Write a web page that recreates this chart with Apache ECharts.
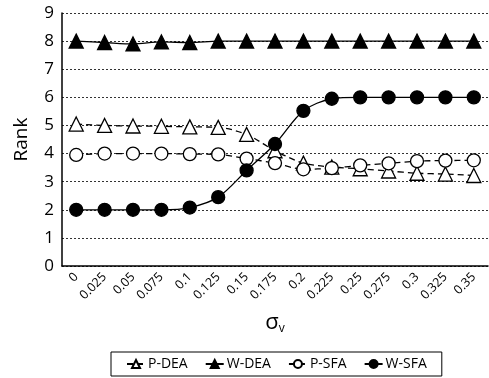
<!DOCTYPE html>
<html><head><meta charset="utf-8">
<script src="https://cdn.jsdelivr.net/npm/echarts@6/dist/echarts.min.js"></script>
<style>html,body{margin:0;padding:0;background:#fff}#c{width:489px;height:378px}</style>
</head><body><div id="c"></div>
<script>
const categories = ['0','0.025','0.05','0.075','0.1','0.125','0.15','0.175','0.2','0.225','0.25','0.275','0.3','0.325','0.35'];
const pDEA = [5.05,5.0,4.98,4.97,4.95,4.93,4.68,4.1,3.66,3.52,3.46,3.38,3.3,3.27,3.22];
const wDEA = [8.0,7.95,7.9,7.97,7.95,8.0,8.0,8.0,8.0,8.0,8.0,8.0,8.0,8.0,8.0];
const pSFA = [3.95,4.0,4.0,4.0,3.98,3.97,3.82,3.66,3.44,3.48,3.58,3.65,3.73,3.75,3.76];
const wSFA = [2.0,2.0,2.0,2.0,2.08,2.45,3.4,4.34,5.52,5.95,6.0,6.0,6.0,6.0,6.0];
const yTicks = [0,1,2,3,4,5,6,7,8,9];

const font = '"Open Sans", "Noto Sans", sans-serif';
const chart = echarts.init(document.getElementById('c'));
function ser(name, data, symbol, filled, dashed) {
  return {
    name, type: 'line', data, symbol, symbolSize: symbol === 'circle' ? 13 : 14,
    smooth: 0.3,
    lineStyle: { color: '#000', width: 1.3, type: dashed ? [6, 4] : 'solid' },
    itemStyle: { color: filled ? '#000' : '#fff', borderColor: '#000', borderWidth: 1.3 },
    emphasis: { disabled: true }
  };
}
chart.setOption({
  animation: false,
  textStyle: { fontFamily: font },
  grid: { left: 62, right: 1, top: 13, bottom: 112, containLabel: false },
  legend: {
    bottom: 2, left: 111,
    data: ['P-DEA','W-DEA','P-SFA','W-SFA'],
    borderColor: '#000', borderWidth: 1, padding: [5, 15],
    itemGap: 17, itemWidth: 18, itemHeight: 10,
    textStyle: { fontSize: 14, color: '#000', fontFamily: font, padding: [0, 0, 0, -2] }
  },
  xAxis: {
    type: 'category', data: categories, boundaryGap: true,
    axisLine: { lineStyle: { color: '#000', width: 1.5 } },
    axisTick: { show: false },
    axisLabel: { rotate: 45, fontSize: 12.5, color: '#000', margin: 9, interval: 0 },
    name: '{a|σ}{b|v}', nameLocation: 'middle', nameGap: 45,
    nameTextStyle: { rich: { a: { fontSize: 22, color: '#000', fontFamily: font }, b: { fontSize: 12, color: '#000', verticalAlign: 'bottom', padding: [12, 0, 0, 0], fontFamily: font } } }
  },
  yAxis: {
    type: 'value', min: yTicks[0], max: yTicks[yTicks.length - 1], interval: 1,
    axisLine: { show: true, lineStyle: { color: '#000', width: 1.5 } },
    axisTick: { show: false },
    axisLabel: { fontSize: 17, color: '#000', margin: 8 },
    splitLine: { lineStyle: { color: '#333', type: [2, 2], width: 1 } },
    name: 'Rank', nameLocation: 'middle', nameGap: 31, nameRotate: 90,
    nameTextStyle: { fontSize: 19, color: '#000' }
  },
  series: [
    ser('P-DEA', pDEA, 'triangle', false, true),
    ser('W-DEA', wDEA, 'triangle', true, false),
    ser('P-SFA', pSFA, 'circle', false, true),
    ser('W-SFA', wSFA, 'circle', true, false)
  ]
});
</script></body></html>
